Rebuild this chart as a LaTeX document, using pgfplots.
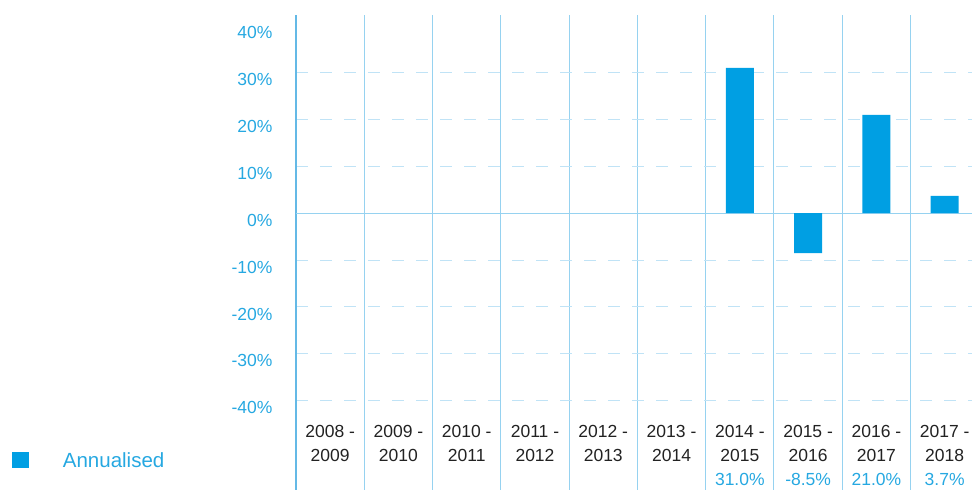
\documentclass[border=0pt]{standalone}
\usepackage{fontspec}
\setmainfont{Liberation Sans}
\usepackage{pgfplots}
\pgfplotsset{compat=1.18}
\definecolor{barblue}{RGB}{0,159,227}
\definecolor{tickblue}{RGB}{38,168,225}
\definecolor{vline}{RGB}{150,210,240}
\definecolor{axline}{RGB}{100,185,230}
\definecolor{dashcol}{RGB}{192,227,246}
\definecolor{zerocol}{RGB}{150,210,240}
\definecolor{cattext}{RGB}{34,34,34}
\begin{document}
\begin{tikzpicture}
\begin{axis}[
  at={(0pt,0pt)}, anchor=south west,
  scale only axis,
  width=676pt, height=475pt,
  xmin=-0.5, xmax=9.4,
  ymin=-59.05, ymax=42.3,
  axis line style={draw=none},
  major tick length=0pt, minor tick length=0pt,
  xtick={0.5,1.5,...,8.5},
  xticklabels={},
  xmajorgrids=true,
  major grid style={draw=vline, line width=1pt, solid},
  extra x ticks={-0.5},
  extra x tick labels={},
  extra x tick style={xmajorgrids=true, major grid style={draw=axline, line width=1.1pt, solid}},
  ytick={-40,-30,-20,-10,0,10,20,30,40},
  yticklabels={-40\%,-30\%,-20\%,-10\%,0\%,10\%,20\%,30\%,40\%},
  ymajorgrids=false,
  minor ytick={-40,-30,-20,-10,10,20,30},
  yminorgrids=true,
  minor grid style={draw=dashcol, line width=1pt, dash pattern=on 12pt off 12pt},
  extra y ticks={0},
  extra y tick labels={},
  extra y tick style={ymajorgrids=true, major grid style={draw=zerocol, line width=1pt, solid}},
  yticklabel style={anchor=east, inner sep=0pt, xshift=-23.3pt, yshift=-7pt,
    font=\fontsize{17.5}{21}\selectfont, text=tickblue},
]
\addplot[ybar, bar width=28pt, fill=barblue, draw=none]
  coordinates {(6,31.0) (7,-8.5) (8,21.0) (9,3.7)};
\tikzset{catlab/.style={align=center, text=cattext, inner sep=0pt,
  font=\fontsize{17.5}{23.3}\selectfont}}
\tikzset{vallab/.style={anchor=base, text=tickblue, inner sep=0pt,
  font=\fontsize{17.5}{21}\selectfont}}
\node[catlab] at (axis cs:0,-49.1) {2008 -\\2009};
\node[catlab] at (axis cs:1,-49.1) {2009 -\\2010};
\node[catlab] at (axis cs:2,-49.1) {2010 -\\2011};
\node[catlab] at (axis cs:3,-49.1) {2011 -\\2012};
\node[catlab] at (axis cs:4,-49.1) {2012 -\\2013};
\node[catlab] at (axis cs:5,-49.1) {2013 -\\2014};
\node[catlab] at (axis cs:6,-49.1) {2014 -\\2015};
\node[catlab] at (axis cs:7,-49.1) {2015 -\\2016};
\node[catlab] at (axis cs:8,-49.1) {2016 -\\2017};
\node[catlab] at (axis cs:9,-49.1) {2017 -\\2018};
\node[vallab] at (axis cs:6,-58.1) {31.0\%};
\node[vallab] at (axis cs:7,-58.1) {-8.5\%};
\node[vallab] at (axis cs:8,-58.1) {21.0\%};
\node[vallab] at (axis cs:9,-58.1) {3.7\%};
\end{axis}
\fill[barblue] (-283.7pt,22pt) rectangle (-267pt,38.3pt);
\node[anchor=base west, inner sep=0pt, text=tickblue, font=\fontsize{20.5}{24}\selectfont] at (-233.3pt,22.7pt) {Annualised};
\pgfresetboundingbox
\useasboundingbox (-296pt,0pt) rectangle (676pt,490pt);
\end{tikzpicture}
\end{document}
